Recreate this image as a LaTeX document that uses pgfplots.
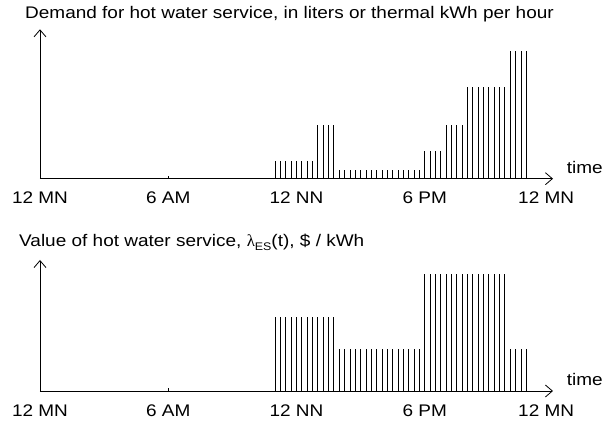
\documentclass[border=0pt]{standalone}
\usepackage{fontspec}
\setmainfont[FakeStretch=1.13]{Liberation Sans}
\newfontfamily\grk{Liberation Serif}
\usepackage{pgfplots}
\pgfplotsset{compat=1.18}
\usetikzlibrary{arrows.meta}
\newcommand\F{\fontsize{16.8pt}{20pt}\selectfont}
\pgfplotsset{
  hw/.style={
    scale only axis, width=513pt,
    xmin=0, xmax=24, ymin=0, enlargelimits=false,
    axis lines=left,
    axis line style={line width=0.8pt, -{Straight Barb[length=7pt,width=12pt,line width=0.8pt]}},
    ytick=\empty,
    xtick={0,6,12,18}, xticklabels={12 MN,6 AM,12 NN,6 PM},
    extra x ticks={23.68}, extra x tick labels={12 MN},
    extra x tick style={tick style={draw=none}},
    major tick length=3pt, tick align=inside,
    tick style={black, line width=0.8pt},
    xticklabel style={font=\F, inner sep=0pt, anchor=base, yshift=-25.3pt},
    every axis x label/.style={at={(axis description cs:1,0)}, anchor=base west, xshift=13.7pt, yshift=5.4pt, inner sep=0pt, font=\F},
    xlabel={time},
  },
  bars/.style={ycomb, black, line width=0.85pt, mark=none},
}
\begin{document}
\begin{tikzpicture}
\path[use as bounding box] (0,0) rectangle (603pt,427pt);
\begin{axis}[hw, at={(40pt,248.3pt)}, anchor=south west,
  height=149.4pt, ymax=149.4,
  every axis title/.style={at={(axis description cs:0,1)}, anchor=base west, xshift=-15pt, yshift=10.3pt, inner sep=0pt, font=\F},
  title={Demand for hot water service, in liters or thermal kWh per hour}]
\addplot[bars] coordinates {
 (11,18) (11.25,18) (11.5,18) (11.75,18) (12,18) (12.25,18) (12.5,18) (12.75,18)
 (13,54) (13.25,54) (13.5,54) (13.75,54)
 (14,9) (14.25,9) (14.5,9) (14.75,9) (15,9) (15.25,9) (15.5,9) (15.75,9)
 (16,9) (16.25,9) (16.5,9) (16.75,9) (17,9) (17.25,9) (17.5,9) (17.75,9)
 (18,28) (18.25,28) (18.5,28) (18.75,28)
 (19,54) (19.25,54) (19.5,54) (19.75,54)
 (20,92) (20.25,92) (20.5,92) (20.75,92) (21,92) (21.25,92) (21.5,92) (21.75,92)
 (22,128) (22.25,128) (22.5,128) (22.75,128)
};
\end{axis}
\begin{axis}[hw, at={(40pt,36pt)}, anchor=south west,
  height=131pt, ymax=131,
  every axis title/.style={at={(axis description cs:0,1)}, anchor=base west, xshift=-21pt, yshift=13.3pt, inner sep=0pt, font=\F},
  title={Value of hot water service, {\grk λ}\raisebox{-0.4ex}{\fontsize{11pt}{12pt}\selectfont ES}(t), \$ / kWh}]
\addplot[bars] coordinates {
 (11,74) (11.25,74) (11.5,74) (11.75,74) (12,74) (12.25,74) (12.5,74) (12.75,74)
 (13,74) (13.25,74) (13.5,74) (13.75,74)
 (14,42) (14.25,42) (14.5,42) (14.75,42) (15,42) (15.25,42) (15.5,42) (15.75,42)
 (16,42) (16.25,42) (16.5,42) (16.75,42) (17,42) (17.25,42) (17.5,42) (17.75,42)
 (18,117) (18.25,117) (18.5,117) (18.75,117) (19,117) (19.25,117) (19.5,117) (19.75,117)
 (20,117) (20.25,117) (20.5,117) (20.75,117) (21,117) (21.25,117) (21.5,117) (21.75,117)
 (22,42) (22.25,42) (22.5,42) (22.75,42)
};
\end{axis}
\end{tikzpicture}
\end{document}
